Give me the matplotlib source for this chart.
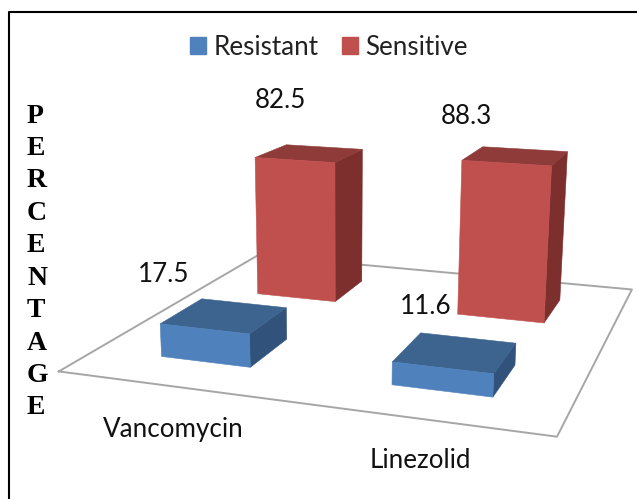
import numpy as np
import matplotlib
matplotlib.use('Agg')
import matplotlib.pyplot as plt
from matplotlib.patches import Patch

categories = ['Vancomycin', 'Linezolid']
series_names = ['Resistant', 'Sensitive']
resistant = [17.5, 11.6]
sensitive = [82.5, 88.3]
axis_title = 'PERCENTAGE'

front_cols = ['#4f81bd', '#c0504d']
top_cols = ['#3c648f', '#8f3b39']
side_cols = ['#31527a', '#7c2f2d']

# camera matrix of the 3d chart: (category, series, value/50) -> pixels
CAM = np.array([
    [213.54839, 145.69641, -7.77059, 58.80523],
    [4.76375, -12.42803, -103.82517, 371.41239],
    [-0.063826, 0.178855, -0.022728, 1.0],
])
BAR_W = 0.40
BAR_D = 0.39


def project(x, y, value):
    p = CAM @ np.array([x, y, value / 50.0, 1.0])
    return p[0] / p[2], p[1] / p[2]


def draw_bar(ax, cat, ser, value):
    x0, x1 = cat + 0.5 - BAR_W / 2, cat + 0.5 + BAR_W / 2
    y0, y1 = ser + 0.5 - BAR_D / 2, ser + 0.5 + BAR_D / 2
    front = [(x0, y0, 0), (x1, y0, 0), (x1, y0, value), (x0, y0, value)]
    top = [(x0, y0, value), (x1, y0, value), (x1, y1, value), (x0, y1, value)]
    side = [(x1, y0, 0), (x1, y1, 0), (x1, y1, value), (x1, y0, value)]
    for face, col in [(side, side_cols[ser]), (top, top_cols[ser]), (front, front_cols[ser])]:
        ax.fill(*zip(*[project(*p) for p in face]), color=col, lw=0.4, zorder=3)


fig = plt.figure(figsize=(6.37, 4.99), dpi=100)
ax = fig.add_axes([0, 0, 1, 1])
ax.set_xlim(0, 637)
ax.set_ylim(499, 0)
ax.axis('off')

# outer frame, only left and top are in the crop
ax.plot([9, 9, 637], [499, 12, 12], color='black', lw=1.5, zorder=1)

# floor
corners = [(0, 0), (2, 0), (2, 2), (0, 2), (0, 0)]
ax.plot(*zip(*[project(x, y, 0) for x, y in corners]), color='#a6a6a6', lw=1.4, zorder=2)

# back row first so the front row paints over it
for ser, values in [(1, sensitive), (0, resistant)]:
    for cat, value in enumerate(values):
        draw_bar(ax, cat, ser, value)

label_font = dict(family='Lato', fontsize=18.7, color='#111111', ha='center', va='center')
label_pos = [(164, 275), (426, 306), (280, 100), (466, 116)]
for (lx, ly), value in zip(label_pos, resistant + sensitive):
    ax.text(lx, ly, f'{value}', **label_font)

ax.text(173, 430, categories[0], **label_font)
ax.text(420, 460, categories[1], **label_font)

ax.text(27, 262, '\n'.join(axis_title), family='Liberation Serif', fontweight='bold',
        fontsize=20, color='black', ha='left', va='center', linespacing=1.39)

handles = [Patch(color=front_cols[0]), Patch(color=front_cols[1])]
ax.legend(handles, series_names, loc='center', bbox_to_anchor=(329, 47),
          bbox_transform=ax.transData, ncol=2, frameon=False,
          prop={'family': 'Lato', 'size': 18.7}, labelcolor='#222222',
          handlelength=0.6, handleheight=0.62, handletextpad=0.31, columnspacing=0.9)

fig.savefig('out.png', dpi=100)
